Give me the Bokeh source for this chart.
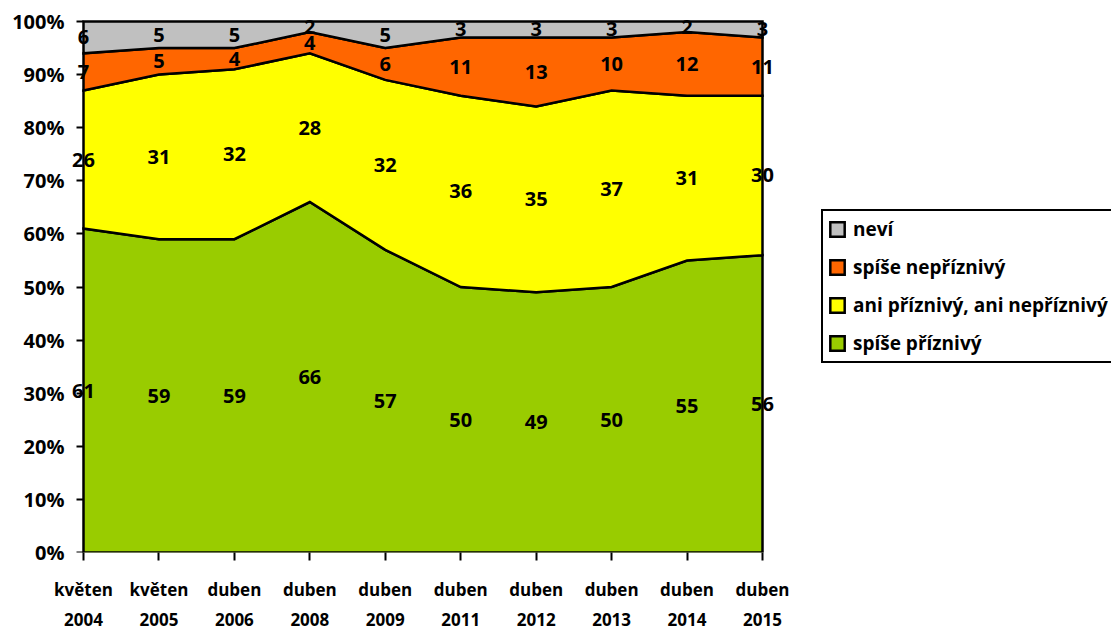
from bokeh.plotting import figure
from bokeh.models import (Range1d, FixedTicker, Legend, LegendItem, LinearAxis,
                          PrintfTickFormatter)
from bokeh.core.properties import value
from bokeh.embed import file_html
from bokeh.resources import INLINE

categories = ["květen\n2004", "květen\n2005", "duben\n2006", "duben\n2008", "duben\n2009",
              "duben\n2011", "duben\n2012", "duben\n2013", "duben\n2014", "duben\n2015"]
spise_priznivy = [61, 59, 59, 66, 57, 50, 49, 50, 55, 56]
ani_ani = [26, 31, 32, 28, 32, 36, 35, 37, 31, 30]
spise_nepriznivy = [7, 5, 4, 4, 6, 11, 13, 10, 12, 11]
nevi = [6, 5, 5, 2, 5, 3, 3, 3, 2, 3]
y_ticks = [0, 10, 20, 30, 40, 50, 60, 70, 80, 90, 100]

series_names = ["spíše příznivý", "ani příznivý, ani nepříznivý", "spíše nepříznivý", "neví"]
series_vals = [spise_priznivy, ani_ani, spise_nepriznivy, nevi]
colors = ["#99CC00", "#FFFF00", "#FF6600", "#C0C0C0"]

FONT = "Open Sans"
xs = list(range(len(categories)))

# layout (pixels): the frame spans the whole canvas except the left tick-label panel
# and the bottom category panel, so marginal labels and the legend are not clipped
CANVAS_W = 1111
FRAME_LEFT = 68
DATA_LEFT, DATA_RIGHT = 83, 762      # pixel positions of first / last category
DATA_TOP, DATA_BOTTOM = 21, 552      # pixel positions of 100 % / 0 %
px_per_x = (DATA_RIGHT - DATA_LEFT) / (xs[-1] - xs[0])
x_start = xs[0] - (DATA_LEFT - FRAME_LEFT) / px_per_x
x_end = xs[-1] + (CANVAS_W - DATA_RIGHT) / px_per_x
y_end = 100 * DATA_BOTTOM / (DATA_BOTTOM - DATA_TOP)

p = figure(frame_width=CANVAS_W - FRAME_LEFT, frame_height=DATA_BOTTOM,
           output_backend="svg", toolbar_location=None,
           x_range=Range1d(x_start, x_end), y_range=Range1d(0, y_end),
           min_border_left=FRAME_LEFT, min_border_right=0, min_border_top=0, min_border_bottom=0)

# stacked bands as outlined patches (outlines give the black boundaries / border)
cum = [0] * len(xs)
label_x, label_y, label_t = [], [], []
renderers = []
for v, col in zip(series_vals, colors):
    upper = [c + val for c, val in zip(cum, v)]
    r = p.patch(x=xs + xs[::-1], y=upper + cum[::-1], fill_color=col,
                line_color="black", line_width=2.5, line_join="miter")
    renderers.append(r)
    label_x += xs
    label_y += [c + val / 2 for c, val in zip(cum, v)]
    label_t += [str(val) for val in v]
    cum = upper

p.text(x=label_x, y=label_y, text=label_t, text_align="center", text_baseline="middle",
       text_font=value(FONT), text_font_style="bold", text_font_size="20px", text_color="black")

legend = Legend(items=[LegendItem(label=n, renderers=[r])
                       for n, r in list(zip(series_names, renderers))[::-1]],
                location=(821 - FRAME_LEFT, DATA_BOTTOM - 363))
legend.label_text_font = FONT
legend.label_text_font_style = "bold"
legend.label_text_font_size = "19px"
legend.label_text_color = "black"
legend.glyph_width = 18
legend.glyph_height = 18
legend.label_height = 20
legend.spacing = 12
legend.padding = 5
legend.margin = 0
legend.label_standoff = 7
legend.border_line_color = "black"
legend.border_line_alpha = 1
legend.border_line_width = 2
legend.background_fill_alpha = 1
p.add_layout(legend, "center")

p.xgrid.visible = False
p.ygrid.visible = False
p.outline_line_color = None
p.background_fill_color = "white"
p.border_fill_color = "white"

# tick labels (left panel)
p.yaxis.ticker = FixedTicker(ticks=y_ticks)
p.yaxis.formatter = PrintfTickFormatter(format="%d%%")
p.yaxis.axis_line_color = None
p.yaxis.major_tick_line_color = None
p.yaxis.major_tick_out = 0
p.yaxis.major_tick_in = 0
p.yaxis.minor_tick_line_color = None
p.yaxis.major_label_text_font = FONT
p.yaxis.major_label_text_font_style = "bold"
p.yaxis.major_label_text_font_size = "20px"
p.yaxis.major_label_text_color = "black"
p.yaxis.major_label_standoff = 4

# tick marks at the first category
tick_axis = LinearAxis(fixed_location=xs[0], ticker=FixedTicker(ticks=y_ticks),
                       major_label_overrides={t: "" for t in y_ticks},
                       axis_line_color=None, major_tick_out=7, major_tick_in=0,
                       major_tick_line_width=2, minor_tick_line_color=None,
                       major_label_standoff=0)
p.add_layout(tick_axis, "left")

p.xaxis.ticker = FixedTicker(ticks=xs)
p.xaxis.major_label_overrides = {i: c for i, c in zip(xs, categories)}
p.xaxis.axis_line_color = None
p.xaxis.major_tick_out = 8
p.xaxis.major_tick_in = 0
p.xaxis.minor_tick_line_color = None
p.xaxis.major_tick_line_width = 2
p.xaxis.major_label_text_font = FONT
p.xaxis.major_label_text_font_style = "bold"
p.xaxis.major_label_text_font_size = "17px"
p.xaxis.major_label_text_color = "black"
p.xaxis.major_label_text_line_height = 1.33
p.xaxis.major_label_standoff = 17

open("out.html", "w").write(file_html(p, INLINE))
